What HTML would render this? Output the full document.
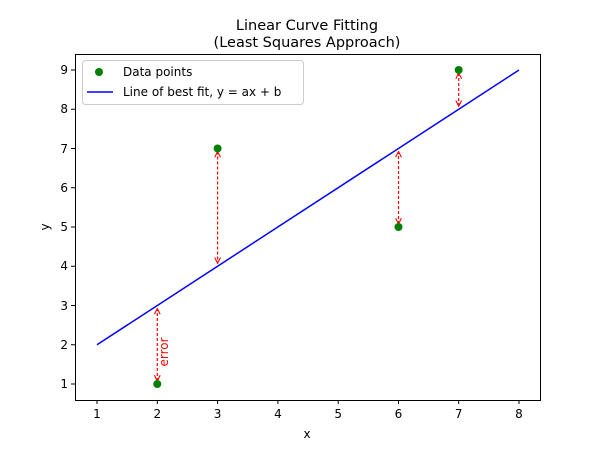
<!DOCTYPE html>
<html><head><meta charset="utf-8"><style>body{margin:0;background:#fff}</style></head><body>
<svg width="600" height="450" xmlns="http://www.w3.org/2000/svg" font-family="'DejaVu Sans','Liberation Sans',sans-serif">
<defs>
<marker id="ah" viewBox="0 0 10 10" refX="9" refY="5" markerWidth="6" markerHeight="6" orient="auto-start-reverse"><path d="M1,1 L9,5 L1,9" fill="none" stroke="red" stroke-width="1.5"/></marker>
</defs>
<rect width="600" height="450" fill="#fff"/>
<text x="307" y="30" font-size="14.5" text-anchor="middle">Linear Curve Fitting</text>
<text x="307" y="47" font-size="14.5" text-anchor="middle">(Least Squares Approach)</text>
<g stroke="#000" stroke-width="1" font-size="12">
<line x1="97" y1="400" x2="97" y2="404"/><line x1="157.3" y1="400" x2="157.3" y2="404"/><line x1="217.6" y1="400" x2="217.6" y2="404"/><line x1="277.9" y1="400" x2="277.9" y2="404"/><line x1="338.2" y1="400" x2="338.2" y2="404"/><line x1="398.5" y1="400" x2="398.5" y2="404"/><line x1="458.7" y1="400" x2="458.7" y2="404"/><line x1="519" y1="400" x2="519" y2="404"/>
<line x1="71" y1="384" x2="75" y2="384"/><line x1="71" y1="344.75" x2="75" y2="344.75"/><line x1="71" y1="305.5" x2="75" y2="305.5"/><line x1="71" y1="266.25" x2="75" y2="266.25"/><line x1="71" y1="227" x2="75" y2="227"/><line x1="71" y1="187.75" x2="75" y2="187.75"/><line x1="71" y1="148.5" x2="75" y2="148.5"/><line x1="71" y1="109.25" x2="75" y2="109.25"/><line x1="71" y1="70" x2="75" y2="70"/>
</g>
<g font-size="12" text-anchor="middle" fill="#000">
<text x="97" y="418">1</text><text x="157.3" y="418">2</text><text x="217.6" y="418">3</text><text x="277.9" y="418">4</text><text x="338.2" y="418">5</text><text x="398.5" y="418">6</text><text x="458.7" y="418">7</text><text x="519" y="418">8</text>
</g>
<g font-size="12" text-anchor="end">
<text x="68" y="388">1</text><text x="68" y="349">2</text><text x="68" y="310">3</text><text x="68" y="270">4</text><text x="68" y="231">5</text><text x="68" y="192">6</text><text x="68" y="153">7</text><text x="68" y="113">8</text><text x="68" y="74">9</text>
</g>
<text x="307" y="438" font-size="12" text-anchor="middle">x</text>
<text transform="translate(49,227) rotate(-90)" font-size="12" text-anchor="middle">y</text>
<line x1="97" y1="344.75" x2="519" y2="70" stroke="#00f" stroke-width="1.5"/>
<g stroke="red" stroke-width="1.2" stroke-dasharray="3,2" marker-start="url(#ah)" marker-end="url(#ah)">
<line x1="157.3" y1="381" x2="157.3" y2="308.5"/>
<line x1="217.6" y1="151.5" x2="217.6" y2="263.3"/>
<line x1="398.5" y1="224" x2="398.5" y2="151.5"/>
<line x1="458.7" y1="73" x2="458.7" y2="106.3"/>
</g>
<text transform="translate(168,352) rotate(-90)" font-size="12" fill="red" text-anchor="middle">error</text>
<g fill="green"><circle cx="157.3" cy="384" r="4"/><circle cx="217.6" cy="148.5" r="4"/><circle cx="398.5" cy="227" r="4"/><circle cx="458.7" cy="70" r="4"/></g>
<rect x="75.5" y="54.5" width="465" height="346" fill="none" stroke="#000" stroke-width="1"/>
<rect x="82.5" y="60.5" width="221" height="44" rx="3" fill="#fff" fill-opacity="0.8" stroke="#ccc"/>
<circle cx="99" cy="72" r="4" fill="green"/>
<text x="123" y="76" font-size="12">Data points</text>
<line x1="87" y1="92" x2="113" y2="92" stroke="#00f" stroke-width="1.5"/>
<text x="123" y="96" font-size="12">Line of best fit, y = ax + b</text>
</svg>
</body></html>
